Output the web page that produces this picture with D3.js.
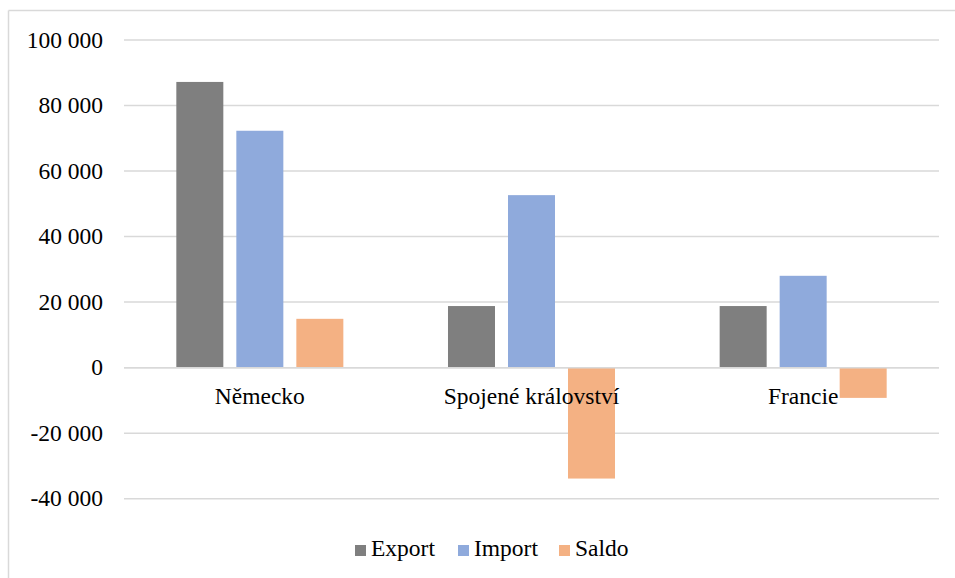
<!DOCTYPE html>
<html><head><meta charset="utf-8">
<script src="https://cdn.jsdelivr.net/npm/d3@7"></script>
<style>body{margin:0;background:#fff}svg{display:block}</style>
</head><body><svg id="c" width="955" height="578"></svg>
<script>
const categories = ["Německo", "Spojené království", "Francie"];
const seriesNames = ["Export", "Import", "Saldo"];
const exportValues = [87200, 18800, 18800];
const importValues = [72300, 52650, 28030];
const saldoValues = [14900, -33850, -9230];
const yTicks = [-40000, -20000, 0, 20000, 40000, 60000, 80000, 100000];
const colors = ["#7f7f7f", "#8faadc", "#f4b183"];

const seriesValues = [exportValues, importValues, saldoValues];
const svg = d3.select("#c");
const fs = 23.5;
const ff = "'Liberation Serif'";

// chart border (top and left)
svg.append("line").attr("x1", 8.5).attr("x2", 955).attr("y1", 10.5).attr("y2", 10.5).attr("stroke", "#d9d9d9").attr("stroke-width", 1.5);
svg.append("line").attr("x1", 8.5).attr("x2", 8.5).attr("y1", 10.5).attr("y2", 578).attr("stroke", "#d9d9d9").attr("stroke-width", 1.5);

const x0 = d3.scaleBand().domain(categories).range([124, 939]).paddingInner(0).paddingOuter(0);
const x1 = d3.scaleBand().domain(seriesNames).range([0, x0.bandwidth()]).paddingInner(0.2167).paddingOuter(0.872);
const y = d3.scaleLinear().domain([-40000, 100000]).range([498.7, 40]);

const fmt = v => d3.format(",")(v).replace(/,/g, " ").replace("−", "-");

// gridlines
svg.append("g").selectAll("line").data(yTicks).join("line")
  .attr("x1", 124).attr("x2", 939)
  .attr("y1", d => y(d)).attr("y2", d => y(d))
  .attr("stroke", "#d9d9d9").attr("stroke-width", 1.5);

// y labels
svg.append("g").selectAll("text").data(yTicks).join("text")
  .attr("x", 103).attr("y", d => y(d)).attr("dy", "0.33em")
  .attr("text-anchor", "end").attr("font-size", fs).style("font-family", ff)
  .text(d => fmt(d));

// bars
const data = [];
categories.forEach((c, i) => seriesNames.forEach((s, j) => data.push({c, s, v: seriesValues[j][i], j})));
svg.append("g").selectAll("rect").data(data).join("rect")
  .attr("x", d => x0(d.c) + x1(d.s))
  .attr("width", x1.bandwidth())
  .attr("y", d => Math.min(y(d.v), y(0)))
  .attr("height", d => Math.abs(y(d.v) - y(0)))
  .attr("fill", d => colors[d.j]);

// zero line on top
svg.append("line").attr("x1", 124).attr("x2", 939).attr("y1", y(0)).attr("y2", y(0)).attr("stroke", "#d9d9d9").attr("stroke-width", 1.5);

// category labels
svg.append("g").selectAll("text").data(categories).join("text")
  .attr("x", d => x0(d) + x0.bandwidth() / 2).attr("y", 404)
  .attr("text-anchor", "middle").attr("font-size", fs).style("font-family", ff)
  .text(d => d);

// legend
const legendX = [355, 458, 559];
const lg = svg.append("g");
seriesNames.forEach((s, i) => {
  lg.append("rect").attr("x", legendX[i]).attr("y", 545).attr("width", 11).attr("height", 11).attr("fill", colors[i]);
  lg.append("text").attr("x", legendX[i] + 16).attr("y", 556).attr("font-size", fs).style("font-family", ff).text(s);
});
</script></body></html>
